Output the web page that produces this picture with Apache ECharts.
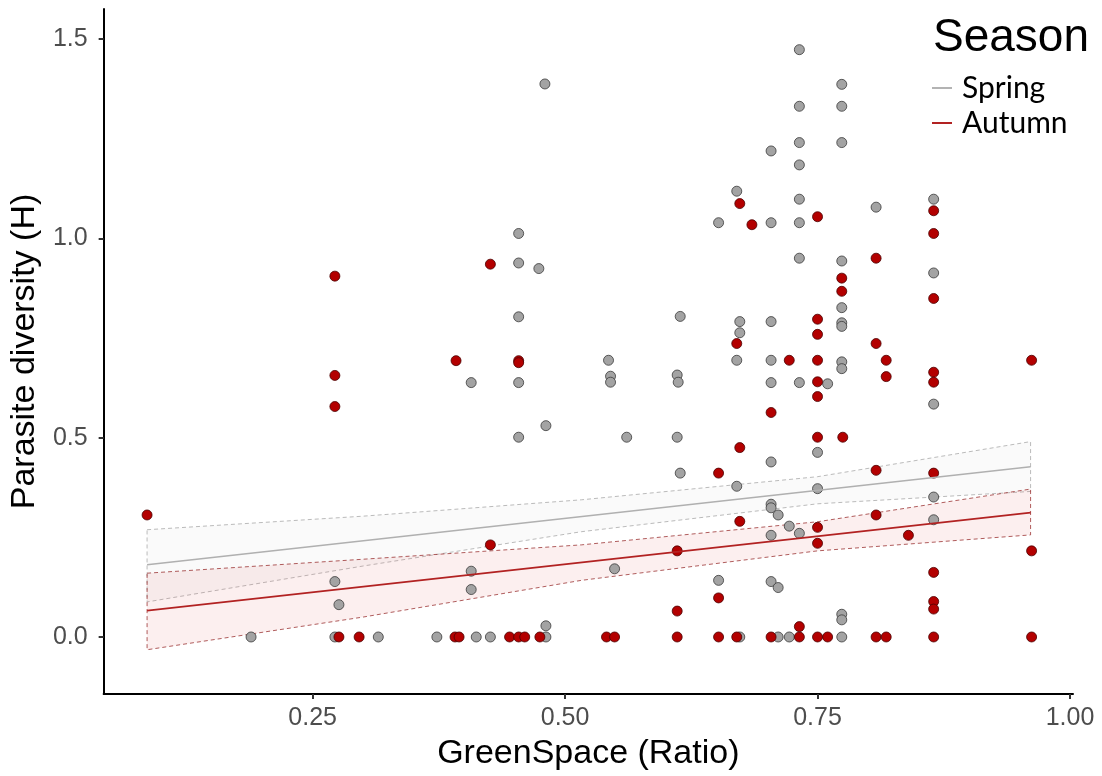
<!DOCTYPE html>
<html>
<head>
<meta charset="utf-8">
<script src="https://cdn.jsdelivr.net/npm/echarts@6/dist/echarts.min.js"></script>
<style>
html,body{margin:0;padding:0;background:#fff;}
#chart{width:1102px;height:776px;}
</style>
</head>
<body>
<div id="chart"></div>
<script>
// ---- data ----
const xTicks = [0.25, 0.50, 0.75, 1.00];
const yTicks = [0.0, 0.5, 1.0, 1.5];
const seasons = ['Spring', 'Autumn'];

const springPoints = [
  [0.189,0],[0.272,0.139],[0.276,0.081],[0.272,0],[0.315,0],[0.373,0],[0.412,0],[0.426,0],
  [0.481,0],[0.481,0.028],[0.407,0.165],[0.407,0.119],[0.454,0.501],[0.481,0.530],[0.407,0.638],
  [0.454,0.638],[0.454,1.012],[0.454,0.938],[0.474,0.924],[0.454,0.803],[0.480,1.387],
  [0.732,1.473],[0.774,1.386],[0.732,1.331],[0.774,1.331],[0.732,1.240],[0.774,1.240],[0.704,1.219],
  [0.732,1.184],[0.670,1.118],[0.732,1.098],[0.808,1.078],[0.865,1.098],[0.652,1.039],[0.704,1.039],
  [0.732,1.039],[0.732,0.950],[0.774,0.943],[0.865,0.913],[0.774,0.826],[0.614,0.804],[0.673,0.791],
  [0.704,0.791],[0.774,0.788],[0.774,0.779],[0.673,0.763],[0.543,0.694],[0.670,0.694],[0.704,0.694],
  [0.774,0.690],[0.774,0.673],[0.545,0.654],[0.545,0.639],[0.611,0.657],[0.612,0.639],[0.704,0.638],
  [0.732,0.638],[0.760,0.635],[0.865,0.584],[0.561,0.501],[0.611,0.501],[0.750,0.463],[0.704,0.439],
  [0.614,0.411],[0.670,0.378],[0.750,0.372],[0.865,0.351],[0.704,0.333],[0.704,0.324],[0.711,0.306],
  [0.865,0.294],[0.722,0.278],[0.704,0.255],[0.732,0.260],[0.549,0.171],[0.652,0.142],[0.704,0.139],
  [0.711,0.124],[0.774,0.057],[0.774,0.043],[0.673,0],[0.711,0],[0.722,0],[0.774,0]
];

const autumnPoints = [
  [0.086,0.306],[0.272,0.905],[0.272,0.656],[0.272,0.578],[0.276,0],[0.296,0],[0.391,0],[0.395,0],
  [0.445,0],[0.454,0],[0.460,0],[0.475,0],[0.426,0.231],[0.426,0.935],[0.392,0.693],[0.454,0.693],
  [0.454,0.688],[0.673,1.087],[0.865,1.069],[0.750,1.054],[0.685,1.034],[0.865,1.012],[0.808,0.950],
  [0.774,0.900],[0.774,0.867],[0.865,0.849],[0.750,0.797],[0.750,0.759],[0.670,0.736],[0.808,0.736],
  [0.722,0.694],[0.750,0.694],[0.818,0.694],[0.962,0.694],[0.818,0.653],[0.865,0.664],[0.865,0.639],
  [0.750,0.640],[0.750,0.603],[0.704,0.563],[0.750,0.501],[0.775,0.501],[0.673,0.475],[0.652,0.411],
  [0.808,0.418],[0.865,0.411],[0.808,0.306],[0.673,0.290],[0.750,0.275],[0.840,0.255],[0.750,0.235],
  [0.611,0.216],[0.962,0.216],[0.865,0.162],[0.652,0.098],[0.865,0.089],[0.865,0.070],[0.611,0.065],
  [0.732,0.026],[0.541,0],[0.549,0],[0.611,0],[0.652,0],[0.670,0],[0.704,0],[0.732,0],[0.750,0],
  [0.760,0],[0.808,0],[0.818,0],[0.865,0],[0.962,0]
];

// fitted lines
const springFit = [[0.086,0.181],[0.961,0.427]];
const autumnFit = [[0.086,0.066],[0.961,0.312]];

// confidence band: x, lower, upper
const bandX = [0.086, 0.300, 0.516, 0.750, 0.961];
const springLower = [0.088, 0.178, 0.264, 0.334, 0.365];
const springUpper = [0.269, 0.303, 0.344, 0.402, 0.490];
const autumnLower = [-0.032, 0.050, 0.142, 0.216, 0.256];
const autumnUpper = [0.160, 0.195, 0.231, 0.289, 0.371];

function bandSeries(name, lower, upper, fill, stroke){
  return {
    type:'custom', name: name + ' band', silent:true, z:1,
    data:[[bandX[0], lower[0]]],
    renderItem: function(params, api){
      const pts = [];
      for (let i=0;i<bandX.length;i++) pts.push(api.coord([bandX[i], upper[i]]));
      for (let i=bandX.length-1;i>=0;i--) pts.push(api.coord([bandX[i], lower[i]]));
      return {
        type:'polygon',
        shape:{points:pts},
        style:{fill:fill, stroke:stroke, lineWidth:1, lineDash:[4,3]}
      };
    }
  };
}

const chart = echarts.init(document.getElementById('chart'), null, {renderer:'canvas'});
const labelFont = 'Liberation Sans';
chart.setOption({
  animation:false,
  backgroundColor:'#ffffff',
  title:{
    text:'Season', left:928, top:10,
    textStyle:{fontFamily:labelFont, fontSize:46, fontWeight:'normal', color:'#000'}
  },
  legend:{
    data:[
      {name:'Spring', icon:'rect', itemStyle:{color:'#b3b3b3'}},
      {name:'Autumn', icon:'rect', itemStyle:{color:'#b22222'}}
    ],
    orient:'vertical', left:927, top:68, itemWidth:20, itemHeight:2, itemGap:5,
    selectedMode:false,
    textStyle:{fontFamily:'Lato', fontSize:30, color:'#000', padding:[0,0,0,5]}
  },
  grid:{left:103, right:29, top:9, bottom:81, containLabel:false},
  xAxis:{
    type:'value', min:0.043, max:1.003,
    name:'GreenSpace (Ratio)', nameLocation:'middle', nameGap:43,
    nameTextStyle:{fontFamily:labelFont, fontSize:34, color:'#000'},
    splitLine:{show:false},
    axisLine:{show:true, onZero:false, lineStyle:{color:'#000', width:2}},
    axisTick:{show:true, length:5, customValues:xTicks, lineStyle:{color:'#333', width:2}},
    axisLabel:{customValues:xTicks, margin:12, fontFamily:labelFont, fontSize:25, color:'#4d4d4d',
      formatter:function(v){return v.toFixed(2);}}
  },
  yAxis:{
    type:'value', min:-0.143, max:1.575,
    name:'Parasite diversity (H)', nameLocation:'middle', nameGap:60, nameRotate:90,
    nameTextStyle:{fontFamily:labelFont, fontSize:34, color:'#000'},
    splitLine:{show:false},
    axisLine:{show:true, onZero:false, lineStyle:{color:'#000', width:2}},
    axisTick:{show:true, length:5, customValues:yTicks, lineStyle:{color:'#333', width:2}},
    axisLabel:{customValues:yTicks, margin:16, fontFamily:labelFont, fontSize:25, color:'#4d4d4d',
      formatter:function(v){return v.toFixed(1);}}
  },
  series:[
    bandSeries('Spring', springLower, springUpper, 'rgba(215,215,215,0.12)', 'rgba(170,170,170,0.8)'),
    bandSeries('Autumn', autumnLower, autumnUpper, 'rgba(225,100,100,0.10)', 'rgba(150,40,40,0.75)'),
    {
      type:'scatter', name:'Spring pts', data:springPoints, symbolSize:10, z:3,
      itemStyle:{color:'#a3a3a3', borderColor:'#3a3a3a', borderWidth:0.8, opacity:1}
    },
    {
      type:'scatter', name:'Autumn pts', data:autumnPoints, symbolSize:10, z:3,
      itemStyle:{color:'#b30000', borderColor:'#4a0000', borderWidth:0.8, opacity:1}
    },
    {
      type:'line', name:'Spring', data:springFit, showSymbol:false, z:4,
      lineStyle:{color:'#b0b0b0', width:1.6}, itemStyle:{color:'#b3b3b3'}
    },
    {
      type:'line', name:'Autumn', data:autumnFit, showSymbol:false, z:4,
      lineStyle:{color:'#b22222', width:1.6}, itemStyle:{color:'#b22222'}
    }
  ]
});
</script>
</body>
</html>
